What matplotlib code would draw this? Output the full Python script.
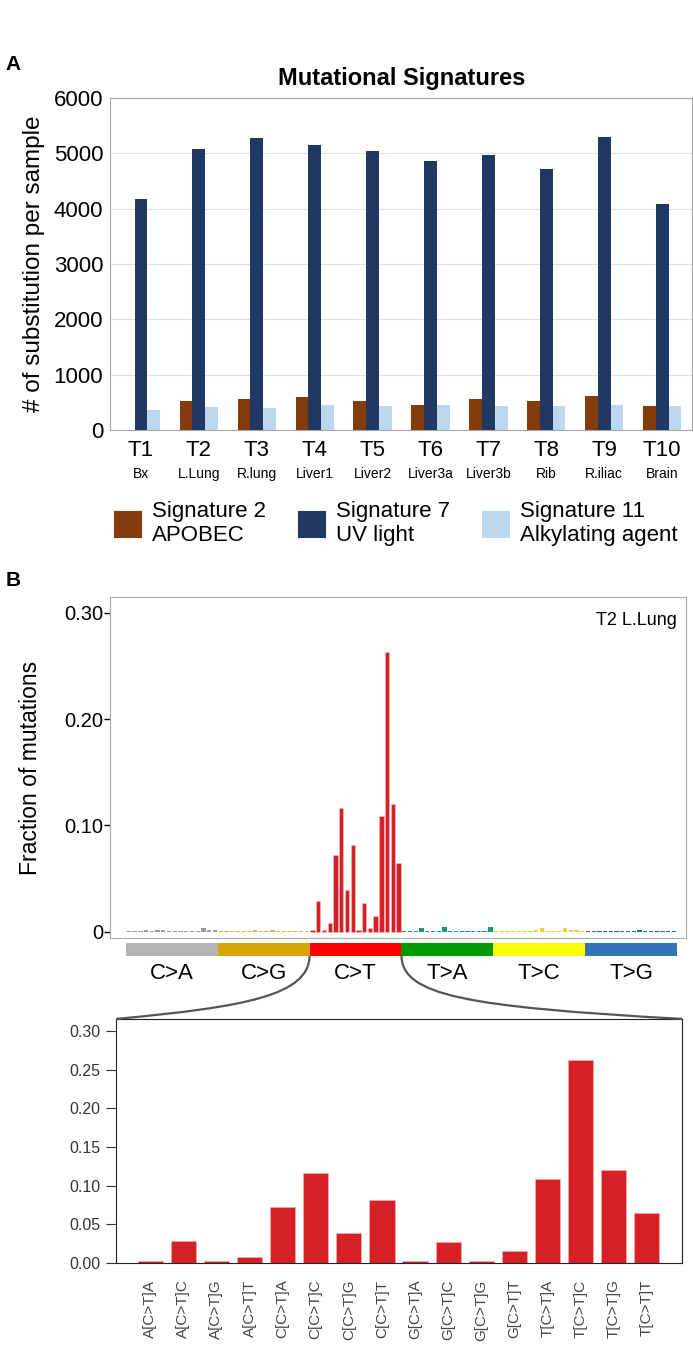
import numpy as np
import matplotlib
matplotlib.use('Agg')
import matplotlib.pyplot as plt
from matplotlib.path import Path
from matplotlib.patches import PathPatch, Patch

# ---- panel A data ----
tumors = ['T1', 'T2', 'T3', 'T4', 'T5', 'T6', 'T7', 'T8', 'T9', 'T10']
sites = ['Bx', 'L.Lung', 'R.lung', 'Liver1', 'Liver2', 'Liver3a', 'Liver3b', 'Rib', 'R.iliac', 'Brain']
sig2 = [0, 520, 570, 590, 530, 460, 570, 520, 610, 430]
sig7 = [4170, 5080, 5270, 5150, 5050, 4860, 4970, 4710, 5290, 4090]
sig11 = [370, 420, 400, 450, 440, 460, 430, 430, 450, 430]
sig_labels = ['Signature 2\nAPOBEC', 'Signature 7\nUV light', 'Signature 11\nAlkylating agent']
sig_colors = ['#843c0c', '#1f3864', '#bdd7ee']

# ---- panel B data ----
classes = ['C>A', 'C>G', 'C>T', 'T>A', 'T>C', 'T>G']
class_colors = ['#b3b3b3', '#d9a400', '#ff0000', '#009900', '#ffff00', '#2e75b6']
bar_colors = ['#9a9a9a', '#d8b25a', '#d62027', '#1b9a6e', '#e3d24a', '#2f6a9c']
ca = [0.001, 0.001, 0.001, 0.002, 0.001, 0.002, 0.002, 0.001, 0.001, 0.001, 0.001, 0.001, 0.001, 0.003, 0.002, 0.002]
cg = [0.001, 0.001, 0.001, 0.001, 0.001, 0.001, 0.002, 0.001, 0.001, 0.002, 0.001, 0.001, 0.001, 0.001, 0.001, 0.001]
ct = [0.002, 0.029, 0.002, 0.008, 0.072, 0.116, 0.039, 0.082, 0.002, 0.027, 0.003, 0.015, 0.109, 0.263, 0.120, 0.065]
ta = [0.001, 0.001, 0.001, 0.003, 0.001, 0.001, 0.001, 0.004, 0.001, 0.001, 0.001, 0.001, 0.001, 0.001, 0.001, 0.004]
tc = [0.001, 0.001, 0.001, 0.001, 0.001, 0.001, 0.001, 0.002, 0.003, 0.001, 0.001, 0.001, 0.003, 0.002, 0.002, 0.001]
tg = [0.001, 0.001, 0.001, 0.001, 0.001, 0.001, 0.001, 0.001, 0.001, 0.002, 0.001, 0.001, 0.001, 0.001, 0.001, 0.001]
ct_contexts = ['A[C>T]A', 'A[C>T]C', 'A[C>T]G', 'A[C>T]T', 'C[C>T]A', 'C[C>T]C', 'C[C>T]G', 'C[C>T]T',
               'G[C>T]A', 'G[C>T]C', 'G[C>T]G', 'G[C>T]T', 'T[C>T]A', 'T[C>T]C', 'T[C>T]G', 'T[C>T]T']
sample_name = 'T2 L.Lung'

arial = ['Liberation Sans', 'DejaVu Sans']
plt.rcParams['font.family'] = arial

fig = plt.figure(figsize=(6.93, 13.46), dpi=100)

# ================= Panel A =================
axA = fig.add_axes([0.159, 0.6805, 0.840, 0.2467])
x = np.arange(len(tumors))
w = 0.22
axA.bar(x - w, sig2, w, color=sig_colors[0], zorder=3)
axA.bar(x, sig7, w, color=sig_colors[1], zorder=3)
axA.bar(x + w, sig11, w, color=sig_colors[2], zorder=3)
axA.set_xlim(-0.53, 9.52)
axA.set_ylim(0, 6000)
axA.set_yticks(range(0, 6001, 1000))
axA.yaxis.grid(True, color='#e0e0e0', lw=0.8, zorder=0)
axA.set_xticks(x)
axA.set_xticklabels(tumors, fontsize=16)
for lab in axA.get_yticklabels():
    lab.set_fontsize(16)
axA.tick_params(length=0, pad=5)
axA.tick_params(axis='x', pad=7)
for s in axA.spines.values():
    s.set_color('#a6a6a6')
for i, s in enumerate(sites):
    axA.text(i, -0.133, s, transform=axA.get_xaxis_transform(), ha='center', va='center', fontsize=10)
axA.set_ylabel('# of substitution per sample', fontsize=17.5, labelpad=6)
axA.set_title('Mutational Signatures', fontsize=17, fontweight='bold', pad=9)
fig.text(0.008, 0.952, 'A', fontsize=15, fontweight='bold', va='center')

handles = [Patch(facecolor=c, edgecolor='#1f3864' if i == 1 else c, lw=1.5) for i, c in enumerate(sig_colors)]
fig.legend(handles, sig_labels, loc='center', bbox_to_anchor=(0.572, 0.611), ncol=3, frameon=False,
           prop={'size': 16}, handlelength=1.15, handleheight=1.35,
           handletextpad=0.5, columnspacing=1.5, labelspacing=0.2)

# ================= Panel B main =================
axB = fig.add_axes([0.1587, 0.3031, 0.831, 0.2534])
all_vals = [ca, cg, ct, ta, tc, tg]
for k, vals in enumerate(all_vals):
    xi = np.arange(16) + 16 * k
    axB.bar(xi, vals, 0.75, color=bar_colors[k], edgecolor='#f6c0c0' if k == 2 else 'none', lw=0.4)
axB.set_xlim(-3.3, 97.07)
axB.set_ylim(-0.006, 0.315)
axB.set_xticks([])
axB.set_yticks([0, 0.1, 0.2, 0.3])
axB.set_yticklabels(['0', '0.10', '0.20', '0.30'], fontsize=14.5)
axB.tick_params(axis='y', length=4, width=1, pad=1)
for s in axB.spines.values():
    s.set_color('#aaaaaa')
axB.set_ylabel('Fraction of mutations', fontsize=16.5, labelpad=16)
axB.text(0.985, 0.955, sample_name, transform=axB.transAxes, ha='right', va='top', fontsize=13)
fig.text(0.008, 0.569, 'B', fontsize=15, fontweight='bold', va='center')

# class colour strip
axS = fig.add_axes([0.1587, 0.2897, 0.831, 0.0097])
axS.bar(np.arange(6) * 16 + 7.5, 1, 16, color=class_colors)
axS.set_xlim(-3.3, 97.07)
axS.set_ylim(0, 1)
axS.axis('off')
for k, c in enumerate(classes):
    axS.text(16 * k + 7.5, -1.3, c, ha='center', va='center', fontsize=16)

# ================= Panel B inset =================
axI = fig.add_axes([0.1674, 0.0617, 0.8167, 0.1813])
xc = np.arange(len(ct))
axI.bar(xc, ct, 0.76, color='#d71f26', edgecolor='#f3b3b3', lw=0.4)
axI.set_xlim(-1.03, 16.06)
axI.set_ylim(0, 0.3155)
axI.set_yticks(np.arange(0, 0.301, 0.05))
axI.set_yticklabels(['%.2f' % v for v in np.arange(0, 0.301, 0.05)], fontsize=11.5, color='#333333')
axI.set_xticks(xc)
axI.set_xticklabels(ct_contexts, rotation=90, fontsize=11, color='#444444')
axI.tick_params(axis='y', length=7, color='#333333', pad=4)
axI.tick_params(axis='x', length=0, pad=12)
for s in axI.spines.values():
    s.set_color('#222222')

# zoom connectors from the C>T strip to the inset box
to_fig = fig.transFigure.inverted()
p_left = to_fig.transform(axS.transData.transform((31.5, 0)))
p_right = to_fig.transform(axS.transData.transform((47.5, 0)))
pos = axI.get_position()
tl = (pos.x0, pos.y1)
tr = (pos.x1, pos.y1)
for p0, p3, sgn in [(p_left, tl, -1), (p_right, tr, 1)]:
    p1 = (p0[0] + sgn * 0.002, p0[1] - 0.029)
    p2 = (p0[0] + sgn * 0.09, p3[1] + 0.009)
    path = Path([p0, p1, p2, p3], [Path.MOVETO, Path.CURVE4, Path.CURVE4, Path.CURVE4])
    fig.patches.append(PathPatch(path, transform=fig.transFigure, fill=False, ec='#555555', lw=1.6))

fig.savefig('out.png', dpi=100)
